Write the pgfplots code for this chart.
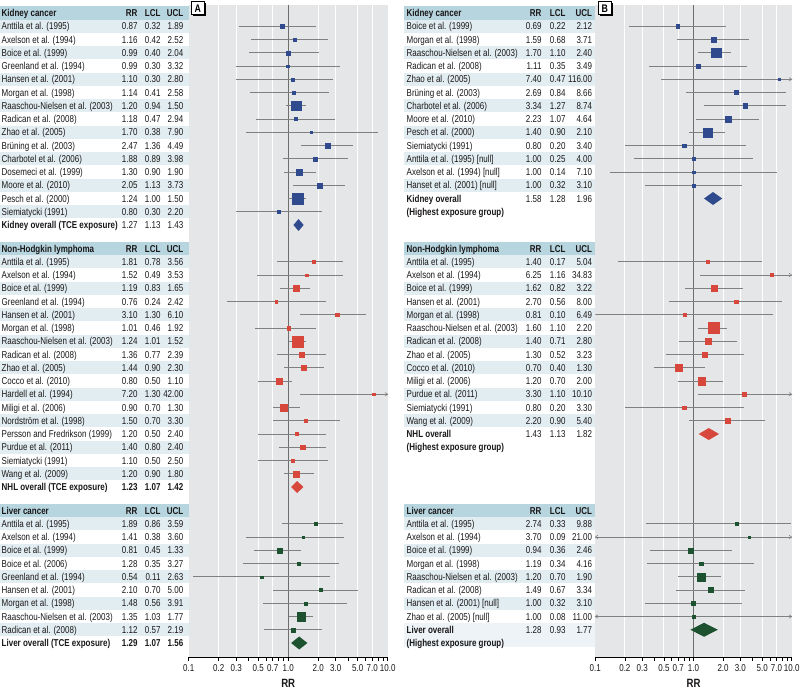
\documentclass[border=0pt]{standalone}
\usepackage{fontspec}
\setmainfont{Liberation Sans}[FakeStretch=0.8]
\usepackage{pgfplots}
\pgfplotsset{compat=1.18}
\usepackage{pgfplotstable}
\usetikzlibrary{shadows}

\definecolor{hdr}{HTML}{B6D5DF}
\definecolor{shd}{HTML}{E2EDF1}
\definecolor{shl}{HTML}{EDF3F6}
\definecolor{bgg}{HTML}{E5E6E7}
\definecolor{cig}{HTML}{808080}
\definecolor{refl}{HTML}{6E6E6E}
\definecolor{kb}{HTML}{2F4A8D}
\definecolor{nr}{HTML}{D8473B}
\definecolor{lg}{HTML}{1D5230}
\definecolor{txt}{HTML}{1A1718}

\newcommand\tf{\fontsize{10}{11}\selectfont}
\tikzset{tb/.style={inner sep=0pt, font=\tf, text=txt, text height=7.2pt, text depth=0pt}}

\pgfdeclareplotmark{rarr}{\pgfpathmoveto{\pgfqpoint{-2.6pt}{1.7pt}}\pgfpathlineto{\pgfqpoint{0pt}{0pt}}\pgfpathlineto{\pgfqpoint{-2.6pt}{-1.7pt}}\pgfusepathqstroke}
\pgfdeclareplotmark{larr}{\pgfpathmoveto{\pgfqpoint{2.6pt}{1.7pt}}\pgfpathlineto{\pgfqpoint{0pt}{0pt}}\pgfpathlineto{\pgfqpoint{2.6pt}{-1.7pt}}\pgfusepathqstroke}

\pgfplotsset{
 sq/.style={scatter, only marks, mark=square*, scatter/use mapped color={draw=#1, fill=#1},
   mark options={line width=0.1pt},
   visualization depends on={\thisrow{s}\as\msz},
   scatter/@pre marker code/.append style={/tikz/mark size=\msz pt}},
}

\newcommand\stripe[4]{\fill[#4] (axis cs:#1,{#3-6.625}) rectangle (axis cs:#2,{#3+6.625});}
\newcommand\RA[5]{\node[tb,anchor=west] at (axis cs:1.5,#1) {#2};
 \node[tb,anchor=east] at (axis cs:137.7,#1) {#3};
 \node[tb,anchor=east] at (axis cs:160.7,#1) {#4};
 \node[tb,anchor=east] at (axis cs:183.5,#1) {#5};}
\newcommand\RB[5]{\node[tb,anchor=west] at (axis cs:406.5,#1) {#2};
 \node[tb,anchor=east] at (axis cs:541.7,#1) {#3};
 \node[tb,anchor=east] at (axis cs:565.7,#1) {#4};
 \node[tb,anchor=east] at (axis cs:592.3,#1) {#5};}

% ---------------- data (A: TCE exposure) ----------------
\pgfplotstableread{
y r l u s
26.25 0.87 0.32 1.89 1.7
39.5 1.16 0.42 2.52 1.5
52.75 0.99 0.40 2.04 1.8
66 0.99 0.30 3.32 1.4
79.25 1.10 0.30 2.80 1.5
92.5 1.14 0.41 2.58 1.5
105.75 1.20 0.94 1.50 4.7
119 1.18 0.47 2.94 1.5
132.25 1.70 0.38 7.90 1.05
145.5 2.47 1.36 4.49 2.3
158.75 1.88 0.89 3.98 2.0
172 1.30 0.90 1.90 3.0
185.25 2.05 1.13 3.73 2.5
198.5 1.24 1.00 1.50 5.2
211.75 0.80 0.30 2.20 1.3
}\kidA
\pgfplotstableread{
y r l u s
261.75 1.81 0.78 3.56 1.7
275 1.52 0.49 3.53 1.4
288.25 1.19 0.83 1.65 3.1
301.5 0.76 0.24 2.42 1.2
314.75 3.10 1.30 6.10 1.7
328 1.01 0.46 1.92 1.8
341.25 1.24 1.01 1.52 5.3
354.5 1.36 0.77 2.39 2.2
367.75 1.44 0.90 2.30 2.5
381 0.80 0.50 1.10 3.0
394.25 7.20 1.30 42.00 1.05
407.5 0.90 0.70 1.30 3.6
420.75 1.50 0.70 3.30 1.7
434 1.20 0.50 2.40 1.5
447.25 1.40 0.80 2.40 2.2
460.5 1.10 0.50 2.50 1.5
473.75 1.20 0.90 1.80 3.2
}\nhlA
\pgfplotstableread{
y r l u s
523.75 1.89 0.86 3.59 1.5
537 1.41 0.38 3.60 1.2
550.25 0.81 0.45 1.33 2.5
563.5 1.28 0.35 3.27 1.5
576.75 0.54 0.11 2.63 1.05
590 2.10 0.70 5.00 1.5
603.25 1.48 0.56 3.91 1.5
616.5 1.35 1.03 1.77 4.2
629.75 1.12 0.57 2.19 2.0
}\livA
% ---------------- data (B: highest exposure group) ----------------
\pgfplotstableread{
y r l u s
26.25 0.69 0.22 2.12 1.7
39.5 1.59 0.68 3.71 2.5
52.75 1.70 1.10 2.40 4.7
66 1.11 0.35 3.49 2.0
79.25 7.40 0.47 116.00 1.05
92.5 2.69 0.84 8.66 2.0
105.75 3.34 1.27 8.74 2.3
119 2.23 1.07 4.64 3.0
132.25 1.40 0.90 2.10 4.5
145.5 0.80 0.20 3.40 1.7
158.75 1.00 0.25 4.00 1.5
172 1.00 0.14 7.10 1.2
185.25 1.00 0.32 3.10 1.7
}\kidB
\pgfplotstableread{
y r l u s
261.75 1.40 0.17 5.04 1.5
275 6.25 1.16 34.83 1.5
288.25 1.62 0.82 3.22 3.0
301.5 2.70 0.56 8.00 1.7
314.75 0.81 0.10 6.49 1.3
328 1.60 1.10 2.20 5.5
341.25 1.40 0.71 2.80 3.0
354.5 1.30 0.52 3.23 2.5
367.75 0.70 0.40 1.30 3.3
381 1.20 0.70 2.00 3.7
394.25 3.30 1.10 10.10 2.0
407.5 0.80 0.20 3.30 1.7
420.75 2.20 0.90 5.40 2.5
}\nhlB
\pgfplotstableread{
y r l u s
523.75 2.74 0.33 9.88 1.7
537 3.70 0.09 21.00 1.2
550.25 0.94 0.36 2.46 2.5
563.5 1.19 0.34 4.16 1.7
576.75 1.20 0.70 1.90 3.8
590 1.49 0.67 3.34 2.5
603.25 1.00 0.32 3.10 2.0
616.5 1.00 0.08 11.00 1.2
}\livB

\begin{document}
\begin{tikzpicture}
% ================= Panel A plot =================
\begin{axis}[at={(188.7pt,39pt)}, anchor=south west, width=199pt, height=652pt, scale only axis,
  xmode=log, xmin=0.1, xmax=10, ymin=5, ymax=657, y dir=reverse,
  axis x line*=bottom, axis y line=none, ytick=\empty,
  xtick={0.1,0.2,0.3,0.5,0.7,1,2,3,5,7,10},
  xticklabels={0.1,0.2,0.3,0.5,0.7,1.0,2.0,3.0,5.0,7.0,10.0},
  minor xtick={0.4,0.6,0.8,0.9,4,6,8,9},
  axis background/.style={fill=bgg},
  tick align=outside, major tick length=4pt, minor tick length=4pt,
  tick style={black, line width=0.6pt},
  x axis line style={black, line width=0.7pt, -},
  xticklabel style={font=\tf, text=txt},
  xlabel={RR}, xlabel style={font=\fontsize{12}{13}\selectfont\bfseries, text=txt, yshift=-1pt}]
\addplot[white, line width=0.9pt] coordinates {(0.2,5) (0.2,657)};
\addplot[white, line width=0.9pt] coordinates {(0.3,5) (0.3,657)};
\addplot[white, line width=0.9pt] coordinates {(0.5,5) (0.5,657)};
\addplot[white, line width=0.9pt] coordinates {(0.7,5) (0.7,657)};
\addplot[white, line width=0.9pt] coordinates {(2,5) (2,657)};
\addplot[white, line width=0.9pt] coordinates {(3,5) (3,657)};
\addplot[white, line width=0.9pt] coordinates {(5,5) (5,657)};
\addplot[white, line width=0.9pt] coordinates {(7,5) (7,657)};
\addplot[refl, line width=0.9pt] coordinates {(1,5) (1,657)};
\addplot[draw=none, mark=none, error bars/x dir=both, error bars/x explicit, error bars/error mark=none, error bars/error bar style={draw=cig, line width=0.7pt}] table[x=r,y=y,x error plus expr=\thisrow{u}-\thisrow{r},x error minus expr=\thisrow{r}-\thisrow{l}] {\kidA};
\addplot[draw=none, mark=none, error bars/x dir=both, error bars/x explicit, error bars/error mark=none, error bars/error bar style={draw=cig, line width=0.7pt}] table[x=r,y=y,x error plus expr=\thisrow{u}-\thisrow{r},x error minus expr=\thisrow{r}-\thisrow{l}] {\nhlA};
\addplot[draw=none, mark=none, error bars/x dir=both, error bars/x explicit, error bars/error mark=none, error bars/error bar style={draw=cig, line width=0.7pt}] table[x=r,y=y,x error plus expr=\thisrow{u}-\thisrow{r},x error minus expr=\thisrow{r}-\thisrow{l}] {\livA};
\addplot[sq=kb] table[x=r,y=y] {\kidA};
\addplot[sq=nr] table[x=r,y=y] {\nhlA};
\addplot[sq=lg] table[x=r,y=y] {\livA};
\addplot[fill=kb, draw=none] coordinates {(1.13,225) (1.27,219) (1.43,225) (1.27,231) (1.13,225)};
\addplot[fill=nr, draw=none] coordinates {(1.07,487) (1.23,481) (1.42,487) (1.23,493) (1.07,487)};
\addplot[fill=lg, draw=none] coordinates {(1.07,643) (1.29,636.5) (1.56,643) (1.29,649.5) (1.07,643)};
\addplot[only marks, mark=rarr, mark options={draw=cig, line width=0.6pt}] coordinates {(10,394.25)};
\end{axis}
% ================= Panel B plot =================
\begin{axis}[at={(595.3pt,39pt)}, anchor=south west, width=196.4pt, height=652pt, scale only axis,
  xmode=log, xmin=0.1, xmax=10, ymin=5, ymax=657, y dir=reverse,
  axis x line*=bottom, axis y line=none, ytick=\empty,
  xtick={0.1,0.2,0.3,0.5,0.7,1,2,3,5,7,10},
  xticklabels={0.1,0.2,0.3,0.5,0.7,1.0,2.0,3.0,5.0,7.0,10.0},
  minor xtick={0.4,0.6,0.8,0.9,4,6,8,9},
  axis background/.style={fill=bgg},
  tick align=outside, major tick length=4pt, minor tick length=4pt,
  tick style={black, line width=0.6pt},
  x axis line style={black, line width=0.7pt, -},
  xticklabel style={font=\tf, text=txt},
  xlabel={RR}, xlabel style={font=\fontsize{12}{13}\selectfont\bfseries, text=txt, yshift=-1pt}]
\addplot[white, line width=0.9pt] coordinates {(0.2,5) (0.2,657)};
\addplot[white, line width=0.9pt] coordinates {(0.3,5) (0.3,657)};
\addplot[white, line width=0.9pt] coordinates {(0.5,5) (0.5,657)};
\addplot[white, line width=0.9pt] coordinates {(0.7,5) (0.7,657)};
\addplot[white, line width=0.9pt] coordinates {(2,5) (2,657)};
\addplot[white, line width=0.9pt] coordinates {(3,5) (3,657)};
\addplot[white, line width=0.9pt] coordinates {(5,5) (5,657)};
\addplot[white, line width=0.9pt] coordinates {(7,5) (7,657)};
\addplot[refl, line width=0.9pt] coordinates {(1,5) (1,657)};
\addplot[draw=none, mark=none, error bars/x dir=both, error bars/x explicit, error bars/error mark=none, error bars/error bar style={draw=cig, line width=0.7pt}] table[x=r,y=y,x error plus expr=\thisrow{u}-\thisrow{r},x error minus expr=\thisrow{r}-\thisrow{l}] {\kidB};
\addplot[draw=none, mark=none, error bars/x dir=both, error bars/x explicit, error bars/error mark=none, error bars/error bar style={draw=cig, line width=0.7pt}] table[x=r,y=y,x error plus expr=\thisrow{u}-\thisrow{r},x error minus expr=\thisrow{r}-\thisrow{l}] {\nhlB};
\addplot[draw=none, mark=none, error bars/x dir=both, error bars/x explicit, error bars/error mark=none, error bars/error bar style={draw=cig, line width=0.7pt}] table[x=r,y=y,x error plus expr=\thisrow{u}-\thisrow{r},x error minus expr=\thisrow{r}-\thisrow{l}] {\livB};
\addplot[sq=kb] table[x=r,y=y] {\kidB};
\addplot[sq=nr] table[x=r,y=y] {\nhlB};
\addplot[sq=lg] table[x=r,y=y] {\livB};
\addplot[fill=kb, draw=none] coordinates {(1.28,198.5) (1.58,192) (1.96,198.5) (1.58,205) (1.28,198.5)};
\addplot[fill=nr, draw=none] coordinates {(1.13,434) (1.43,428) (1.82,434) (1.43,440) (1.13,434)};
\addplot[fill=lg, draw=none] coordinates {(0.93,629.75) (1.28,622.75) (1.77,629.75) (1.28,636.75) (0.93,629.75)};
\addplot[only marks, mark=rarr, mark options={draw=cig, line width=0.6pt}] coordinates {(10,79.25) (10,275) (10,394.25) (10,537) (10,616.5)};
\addplot[only marks, mark=larr, mark options={draw=cig, line width=0.6pt}] coordinates {(0.1,537) (0.1,616.5)};
\end{axis}
% ================= Tables (canvas in pixel units) =================
\begin{axis}[at={(0,0)}, anchor=south west, scale only axis, width=800pt, height=696pt,
  xmin=0, xmax=800, ymin=0, ymax=696, y dir=reverse, hide axis, clip=false]
% --- stripes A
\stripe{0}{188.7}{13}{hdr}
\stripe{0}{188.7}{26.25}{shd}\stripe{0}{188.7}{52.75}{shd}\stripe{0}{188.7}{79.25}{shd}\stripe{0}{188.7}{105.75}{shd}
\stripe{0}{188.7}{132.25}{shd}\stripe{0}{188.7}{158.75}{shd}\stripe{0}{188.7}{185.25}{shd}\stripe{0}{188.7}{211.75}{shd}
\stripe{0}{188.7}{248.5}{hdr}
\stripe{0}{188.7}{261.75}{shd}\stripe{0}{188.7}{288.25}{shd}\stripe{0}{188.7}{314.75}{shd}\stripe{0}{188.7}{341.25}{shd}
\stripe{0}{188.7}{367.75}{shd}\stripe{0}{188.7}{394.25}{shd}\stripe{0}{188.7}{420.75}{shd}\stripe{0}{188.7}{447.25}{shd}
\stripe{0}{188.7}{473.75}{shd}
\stripe{0}{188.7}{510.5}{hdr}
\stripe{0}{188.7}{523.75}{shd}\stripe{0}{188.7}{550.25}{shd}\stripe{0}{188.7}{576.75}{shd}\stripe{0}{188.7}{603.25}{shd}
\stripe{0}{188.7}{629.75}{shd}
% --- stripes B
\stripe{404}{595.3}{13}{hdr}
\stripe{404}{595.3}{26.25}{shd}\stripe{404}{595.3}{52.75}{shd}\stripe{404}{595.3}{79.25}{shd}\stripe{404}{595.3}{105.75}{shd}
\stripe{404}{595.3}{132.25}{shd}\stripe{404}{595.3}{158.75}{shd}\stripe{404}{595.3}{185.25}{shd}
\stripe{404}{595.3}{248.5}{hdr}
\stripe{404}{595.3}{261.75}{shd}\stripe{404}{595.3}{288.25}{shd}\stripe{404}{595.3}{314.75}{shd}\stripe{404}{595.3}{341.25}{shd}
\stripe{404}{595.3}{367.75}{shd}\stripe{404}{595.3}{394.25}{shd}\stripe{404}{595.3}{420.75}{shd}
\stripe{404}{595.3}{510.5}{hdr}
\stripe{404}{595.3}{523.75}{shd}\stripe{404}{595.3}{550.25}{shd}\stripe{404}{595.3}{576.75}{shd}\stripe{404}{595.3}{603.25}{shd}
\fill[shl] (axis cs:404,623.1) rectangle (axis cs:595.3,647);
% --- text A kidney
\RA{13}{\bfseries Kidney cancer}{\bfseries RR}{\bfseries LCL}{\bfseries UCL}
\RA{26.25}{Anttila et al. (1995)}{0.87}{0.32}{1.89}
\RA{39.5}{Axelson et al. (1994)}{1.16}{0.42}{2.52}
\RA{52.75}{Boice et al. (1999)}{0.99}{0.40}{2.04}
\RA{66}{Greenland et al. (1994)}{0.99}{0.30}{3.32}
\RA{79.25}{Hansen et al. (2001)}{1.10}{0.30}{2.80}
\RA{92.5}{Morgan et al. (1998)}{1.14}{0.41}{2.58}
\RA{105.75}{Raaschou-Nielsen et al. (2003)}{1.20}{0.94}{1.50}
\RA{119}{Radican et al. (2008)}{1.18}{0.47}{2.94}
\RA{132.25}{Zhao et al. (2005)}{1.70}{0.38}{7.90}
\RA{145.5}{Brüning et al. (2003)}{2.47}{1.36}{4.49}
\RA{158.75}{Charbotel et al. (2006)}{1.88}{0.89}{3.98}
\RA{172}{Dosemeci et al. (1999)}{1.30}{0.90}{1.90}
\RA{185.25}{Moore et al. (2010)}{2.05}{1.13}{3.73}
\RA{198.5}{Pesch et al. (2000)}{1.24}{1.00}{1.50}
\RA{211.75}{Siemiatycki (1991)}{0.80}{0.30}{2.20}
\RA{225}{\bfseries Kidney overall (TCE exposure)}{1.27}{1.13}{1.43}
% --- text A NHL
\RA{248.5}{\bfseries Non-Hodgkin lymphoma}{\bfseries RR}{\bfseries LCL}{\bfseries UCL}
\RA{261.75}{Anttila et al. (1995)}{1.81}{0.78}{3.56}
\RA{275}{Axelson et al. (1994)}{1.52}{0.49}{3.53}
\RA{288.25}{Boice et al. (1999)}{1.19}{0.83}{1.65}
\RA{301.5}{Greenland et al. (1994)}{0.76}{0.24}{2.42}
\RA{314.75}{Hansen et al. (2001)}{3.10}{1.30}{6.10}
\RA{328}{Morgan et al. (1998)}{1.01}{0.46}{1.92}
\RA{341.25}{Raaschou-Nielsen et al. (2003)}{1.24}{1.01}{1.52}
\RA{354.5}{Radican et al. (2008)}{1.36}{0.77}{2.39}
\RA{367.75}{Zhao et al. (2005)}{1.44}{0.90}{2.30}
\RA{381}{Cocco et al. (2010)}{0.80}{0.50}{1.10}
\RA{394.25}{Hardell et al. (1994)}{7.20}{1.30}{42.00}
\RA{407.5}{Miligi et al. (2006)}{0.90}{0.70}{1.30}
\RA{420.75}{Nordström et al. (1998)}{1.50}{0.70}{3.30}
\RA{434}{Persson and Fredrikson (1999)}{1.20}{0.50}{2.40}
\RA{447.25}{Purdue et al. (2011)}{1.40}{0.80}{2.40}
\RA{460.5}{Siemiatycki (1991)}{1.10}{0.50}{2.50}
\RA{473.75}{Wang et al. (2009)}{1.20}{0.90}{1.80}
\RA{487}{\bfseries NHL overall (TCE exposure)}{\bfseries 1.23}{\bfseries 1.07}{\bfseries 1.42}
% --- text A liver
\RA{510.5}{\bfseries Liver cancer}{\bfseries RR}{\bfseries LCL}{\bfseries UCL}
\RA{523.75}{Anttila et al. (1995)}{1.89}{0.86}{3.59}
\RA{537}{Axelson et al. (1994)}{1.41}{0.38}{3.60}
\RA{550.25}{Boice et al. (1999)}{0.81}{0.45}{1.33}
\RA{563.5}{Boice et al. (2006)}{1.28}{0.35}{3.27}
\RA{576.75}{Greenland et al. (1994)}{0.54}{0.11}{2.63}
\RA{590}{Hansen et al. (2001)}{2.10}{0.70}{5.00}
\RA{603.25}{Morgan et al. (1998)}{1.48}{0.56}{3.91}
\RA{616.5}{Raaschou-Nielsen et al. (2003)}{1.35}{1.03}{1.77}
\RA{629.75}{Radican et al. (2008)}{1.12}{0.57}{2.19}
\RA{643}{\bfseries Liver overall (TCE exposure)}{\bfseries 1.29}{\bfseries 1.07}{\bfseries 1.56}
% --- text B kidney
\RB{13}{\bfseries Kidney cancer}{\bfseries RR}{\bfseries LCL}{\bfseries UCL}
\RB{26.25}{Boice et al. (1999)}{0.69}{0.22}{2.12}
\RB{39.5}{Morgan et al. (1998)}{1.59}{0.68}{3.71}
\RB{52.75}{Raaschou-Nielsen et al. (2003)}{1.70}{1.10}{2.40}
\RB{66}{Radican et al. (2008)}{1.11}{0.35}{3.49}
\RB{79.25}{Zhao et al. (2005)}{7.40}{0.47}{116.00}
\RB{92.5}{Brüning et al. (2003)}{2.69}{0.84}{8.66}
\RB{105.75}{Charbotel et al. (2006)}{3.34}{1.27}{8.74}
\RB{119}{Moore et al. (2010)}{2.23}{1.07}{4.64}
\RB{132.25}{Pesch et al. (2000)}{1.40}{0.90}{2.10}
\RB{145.5}{Siemiatycki (1991)}{0.80}{0.20}{3.40}
\RB{158.75}{Anttila et al. (1995) [null]}{1.00}{0.25}{4.00}
\RB{172}{Axelson et al. (1994) [null]}{1.00}{0.14}{7.10}
\RB{185.25}{Hanset et al. (2001) [null]}{1.00}{0.32}{3.10}
\RB{198.5}{\bfseries Kidney overall}{1.58}{1.28}{1.96}
\node[tb,anchor=west] at (axis cs:406.5,211.75) {\bfseries (Highest exposure group)};
% --- text B NHL
\RB{248.5}{\bfseries Non-Hodgkin lymphoma}{\bfseries RR}{\bfseries LCL}{\bfseries UCL}
\RB{261.75}{Anttila et al. (1995)}{1.40}{0.17}{5.04}
\RB{275}{Axelson et al. (1994)}{6.25}{1.16}{34.83}
\RB{288.25}{Boice et al. (1999)}{1.62}{0.82}{3.22}
\RB{301.5}{Hansen et al. (2001)}{2.70}{0.56}{8.00}
\RB{314.75}{Morgan et al. (1998)}{0.81}{0.10}{6.49}
\RB{328}{Raaschou-Nielsen et al. (2003)}{1.60}{1.10}{2.20}
\RB{341.25}{Radican et al. (2008)}{1.40}{0.71}{2.80}
\RB{354.5}{Zhao et al. (2005)}{1.30}{0.52}{3.23}
\RB{367.75}{Cocco et al. (2010)}{0.70}{0.40}{1.30}
\RB{381}{Miligi et al. (2006)}{1.20}{0.70}{2.00}
\RB{394.25}{Purdue et al. (2011)}{3.30}{1.10}{10.10}
\RB{407.5}{Siemiatycki (1991)}{0.80}{0.20}{3.30}
\RB{420.75}{Wang et al. (2009)}{2.20}{0.90}{5.40}
\RB{434}{\bfseries NHL overall}{1.43}{1.13}{1.82}
\node[tb,anchor=west] at (axis cs:406.5,447.25) {\bfseries (Highest exposure group)};
% --- text B liver
\RB{510.5}{\bfseries Liver cancer}{\bfseries RR}{\bfseries LCL}{\bfseries UCL}
\RB{523.75}{Anttila et al. (1995)}{2.74}{0.33}{9.88}
\RB{537}{Axelson et al. (1994)}{3.70}{0.09}{21.00}
\RB{550.25}{Boice et al. (1999)}{0.94}{0.36}{2.46}
\RB{563.5}{Morgan et al. (1998)}{1.19}{0.34}{4.16}
\RB{576.75}{Raaschou-Nielsen et al. (2003)}{1.20}{0.70}{1.90}
\RB{590}{Radican et al. (2008)}{1.49}{0.67}{3.34}
\RB{603.25}{Hansen et al. (2001) [null]}{1.00}{0.32}{3.10}
\RB{616.5}{Zhao et al. (2005) [null]}{1.00}{0.08}{11.00}
\RB{629.75}{\bfseries Liver overall}{1.28}{0.93}{1.77}
\node[tb,anchor=west] at (axis cs:406.5,643) {\bfseries (Highest exposure group)};
% --- panel labels
\node[draw=black, fill=white, line width=0.5pt, inner sep=0pt, minimum width=13pt, minimum height=13pt,
  anchor=north west, font=\fontsize{11}{11}\selectfont\bfseries, text=black,
  drop shadow={shadow xshift=1.3pt, shadow yshift=-1.3pt, fill=black, opacity=1}] at (axis cs:191,1.5) {A};
\node[draw=black, fill=white, line width=0.5pt, inner sep=0pt, minimum width=13pt, minimum height=13pt,
  anchor=north west, font=\fontsize{11}{11}\selectfont\bfseries, text=black,
  drop shadow={shadow xshift=1.3pt, shadow yshift=-1.3pt, fill=black, opacity=1}] at (axis cs:598,1.5) {B};
\end{axis}
\pgfresetboundingbox
\path[use as bounding box] (0,0) rectangle (800pt,696pt);
\end{tikzpicture}
\end{document}
